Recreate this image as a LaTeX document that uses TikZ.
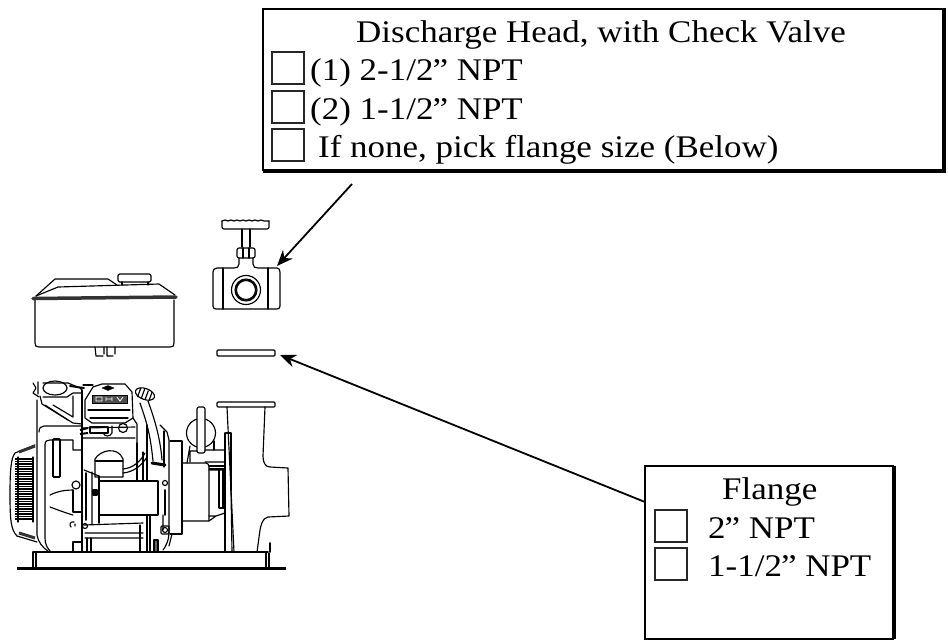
\documentclass[tikz,border=0pt]{standalone}
\usepackage{fontspec}
\setmainfont[FakeStretch=1.11]{Liberation Serif}
\usetikzlibrary{arrows.meta}
\tikzset{
 label/.style={anchor=base west,inner sep=0,font=\fontsize{31.5}{31.5}\selectfont},
 tick/.style={draw=black!85,line width=1.2pt,inner sep=0,outer sep=0,minimum size=32pt},
 panel/.style={draw=black,line width=2pt,inner sep=0,outer sep=0},
 shade/.style={line width=4pt},
 part/.style={line width=1.15pt,line join=round,line cap=round},
 heavy/.style={line width=1.9pt,line join=round,line cap=round},
 pointer/.style={-{Stealth[length=16pt,width=13pt]},line width=1.8pt}
}
\begin{document}
\begin{tikzpicture}[x=1pt,y=-1pt]
 \useasboundingbox (0,0) rectangle (948,641);
 % option panels
 \node[panel,minimum width=680pt,minimum height=161pt] (headbox) at (603,89) {};
 \draw[shade] ([xshift=1pt,yshift=1pt]headbox.north east) -- ([xshift=1pt,yshift=-1pt]headbox.south east) -- ([yshift=-1pt]headbox.south west);
 \node[label] (headtitle) at (356,42) {Discharge Head, with Check Valve};
 \node[tick] (heada) at (288,68) {};
 \node[tick] (headb) at (288,107) {};
 \node[tick] (headc) at (288,145) {};
 \node[label] (headatext) at (310,80) {(1) 2-1/2\kern-1pt” NPT};
 \node[label] (headbtext) at (310,119) {(2) 1-1/2\kern-1pt” NPT};
 \node[label] (headctext) at (318,157) {If none, pick flange size (Below)};
 \node[panel,minimum width=248pt,minimum height=173pt] (flangebox) at (769,552.5) {};
 \draw[shade] ([xshift=1pt]flangebox.north east) -- ([xshift=1pt]flangebox.south east);
 \node[label] (flangetitle) at (722,499) {Flange};
 \node[tick] (flangea) at (671,526) {};
 \node[tick] (flangeb) at (671,564) {};
 \node[label] (flangeatext) at (708,538) {2\kern-1pt” NPT};
 \node[label] (flangebtext) at (708,576) {1-1/2\kern-1pt” NPT};
 % pointers
 \coordinate (headtail) at (352,184);
 \coordinate (valvetip) at (277,266);
 \coordinate (flangetail) at (645,502);
 \coordinate (ringtip) at (280,355);
 \draw[pointer] (headtail) -- (valvetip);
 \draw[pointer] (flangetail) -- (ringtip);
 % tank
 \draw[part] (35,300) -- (35,343) .. controls (35,346) and (36,347) .. (39,347) -- (170,347) .. controls (173,347) and (174,346) .. (174,343) -- (174,300);
 \draw[heavy,line width=3.5pt,black!80] (33,298.5) -- (176,297);
 \draw[part] (36,296) -- (55,279) -- (108,279) -- (117,285);
 \draw[part] (36,296) -- (58,287) -- (159,284) -- (175,295);
 \draw[part,fill=white,rounded corners=1.5pt] (118,274) rectangle (151,282);
 \draw[part] (122,282) -- (122,285) (148,282) -- (148,285);
 \draw[part] (95,347) -- (96,356) -- (103,356) (104,347) -- (104,354) (107,347) -- (107,356) -- (113,356) (115,347) -- (115,354);
 % valve
 \draw[part,rounded corners=2pt] (222,221) -- (222,229) -- (269,229) -- (269,221);
 \draw[part] (222,221) -- (225,220) -- (228,221) -- (231,220) -- (234,221) -- (237,220) -- (240,221) -- (243,220) -- (246,221) -- (249,220) -- (252,221) -- (255,220) -- (258,221) -- (261,220) -- (264,221) -- (269,221);
 \draw[part] (242,229) -- (242,247) (250,229) -- (250,247);
 \draw[part,rounded corners=2pt] (237,248) rectangle (255,258);
 \draw[part] (243,248) -- (243,258) (249,248) -- (249,258);
 \draw[part] (239,258) -- (239,264) .. controls (239,267) and (237,268) .. (234,268) -- (217,268) .. controls (214,268) and (213,270) .. (213,272) -- (213,306) .. controls (213,308) and (214,309) .. (216,309) -- (277,309) .. controls (279,309) and (280,308) .. (280,306) -- (280,272) .. controls (280,270) and (279,268) .. (277,268) -- (258,268) .. controls (255,268) and (253,267) .. (253,264) -- (253,258);
 \draw[part] (223,268) -- (223,309) (268,268) -- (268,309);
 \draw[part] (246,290) circle (14.5) circle (11) circle (9.5);
 % ring and pump flange
 \draw[part,rounded corners=1pt] (217,350) rectangle (275,356);
 \draw[part,rounded corners=1pt] (217,402) rectangle (275,407);
 % pump casing
 \draw[part] (227,407) -- (234,552);
 \draw[part] (265,407) -- (263,456) .. controls (263,462) and (265,467) .. (270,467) -- (288,468) -- (289,516) -- (268,517) .. controls (262,518) and (261,526) .. (260,530) -- (257,552);
 \draw[part] (225,433) -- (225,552) (231,433) -- (231,490) (225,433) -- (231,433);
 \draw[part] (231,490) -- (232,552);
 % impeller hub
 \draw[part] (201,433) circle (14.5);
 \draw[part,fill=white,rounded corners=2pt] (197,407) rectangle (205,453);
 \draw[part] (187,463) -- (190,446) (197,451) -- (190,451) -- (190,462) (205,450) -- (225,450) (205,462) -- (225,462);
 \draw[part] (214,441) -- (214,450);
 \draw[part] (209,466) -- (225,466) (209,469) -- (225,469);
 % bearing housing
 \draw[part] (182,463) -- (206,463) .. controls (208,463) and (209,465) .. (209,467) -- (209,521) -- (182,521);
 \draw[part] (209,470) -- (222,470) (209,516) -- (216,516) (209,521) -- (216,516) -- (225,513);
 \draw[part] (219,470) -- (219,508) (223,470) -- (223,508) (219,508) -- (225,508);
 \draw[part] (170,441) -- (182,441) -- (182,534) -- (170,534);
 % engine block side
 \draw[part] (160,425) -- (167,432) -- (169,440) -- (169,533) .. controls (169,540) and (166,546) .. (163,550);
 \draw[part] (164,431) -- (164,467) (147,425) -- (147,480) (143,452) -- (143,480) (137,443) -- (137,480);
 \draw[part,rounded corners=1pt] (161,526) rectangle (169,534);
 \draw[part] (165,530) circle (2.5);
 \draw[part] (165,483) circle (2.5);
 \draw[heavy] (165,490) -- (165,515);
 % filler tube
 \draw[part] (140,403) .. controls (145,418) and (150,430) .. (153,461);
 \draw[part] (148,401) .. controls (153,415) and (160,435) .. (162,460);
 \draw[part,fill=white,rotate around={-20:(145,394)}] (145,394) ellipse (10 and 5.5);
 \foreach \rib in {-6,-2,2,6}
  \draw[part,rotate around={-20:(145,394)}] (145+\rib,390) -- (145+\rib,399);
 \draw[heavy,line width=3pt] (152,463) -- (165,465);
 % fan and shroud
 \draw[part] (37,400) -- (37,535) .. controls (38,542) and (43,548) .. (48,551);
 \draw[part] (39,432) .. controls (39,428) and (41,426) .. (44,426) -- (82,426);
 \draw[part] (82,390) -- (82,552);
 \draw[part] (45,445) .. controls (45,441) and (47,440) .. (50,440) -- (73,440) -- (73,450) -- (82,450);
 \draw[part] (45,445) -- (45,538) .. controls (45,544) and (47,548) .. (51,552);
 \draw[heavy,rounded corners=1pt] (53,439) rectangle (60,477);
 \draw[part] (76,485) circle (4);
 \draw[part] (50,495) .. controls (58,491) and (66,490) .. (73,490);
 \draw[part] (50,507) .. controls (58,510) and (66,513) .. (73,515);
 \draw[part] (73,490) -- (73,512) -- (82,512);
 \draw[part] (74,522) .. controls (70,521) and (69,525) .. (71,527) (75,524) -- (75,526);
 \draw[part] (73,552) -- (73,542) -- (82,542);
 \draw[part] (35,445) -- (15,453) .. controls (11,458) and (10,470) .. (10,495) .. controls (10,520) and (11,530) .. (17,536) -- (37,542);
 \draw[line width=3pt,black!80] (19,452) -- (35,446);
 \draw[line width=3pt,black!80] (19,533) -- (35,538);
 \foreach \fin in {459,461.5,...,521}
  \draw[line width=1.1pt] (15,\fin) -- (33,\fin);
 \draw[part] (18,457) -- (18,522) (33,457) -- (33,522);
 % cylinder and rails
 \draw[heavy] (86,473) -- (86,520);
 \draw[heavy] (99,476) -- (99,523);
 \draw[part] (92,472) -- (92,524) (84,470) -- (99,476);
 \draw[part,fill=black] (93,490) rectangle (97,495);
 \draw[part] (100,481) -- (158,481) -- (158,515) -- (100,515);
 \draw[part] (95,477) -- (95,459) .. controls (100,450) and (118,446) .. (123,459) -- (123,477) -- (95,477);
 \draw[part] (95,461) -- (123,461);
 \draw[part] (123,469) .. controls (133,468) and (140,462) .. (145,453);
 \draw[part] (123,473) .. controls (134,472) and (142,465) .. (147,457);
 \draw[part] (84,525) -- (143,523) (85,533) -- (143,533) (85,538) -- (143,538);
 \draw[part] (87,538) -- (87,552) (91,538) -- (91,552) (140,525) -- (140,552) (147,515) -- (147,552) (150,515) -- (150,552);
 \draw[part] (85,526) circle (2.5);
 \draw[heavy,fill=black!60] (154,540) rectangle (158,552);
 \draw[part] (172,534) -- (169,546) (163,515) -- (163,530);
 % head
 \draw[part] (85,418) -- (85,400) -- (93,387) -- (102,384) -- (125,384) -- (132,392) -- (133,418) -- (125,423) -- (92,423) -- cycle;
 \draw[part] (88,410) -- (130,410) (90,418) -- (128,418);
 \draw[fill=black!70,draw=black] (92,395) rectangle (127,403);
 \draw[white,line width=.8pt] (96,397) rectangle (102,401) (106,397) -- (106,401) (112,397) -- (112,401) (106,399) -- (112,399) (117,397) -- (120,401) -- (123,397);
 \draw[fill=black] (102,388) -- (108,385.5) -- (114,388) -- (108,390.5) -- cycle;
 \draw[part] (83,438) -- (135,438) (83,428) -- (135,427);
 \draw[part] (137,443) -- (137,424) -- (133,418);
 \draw[part] (90,427) rectangle (108,433);
 \draw[part] (123,428) circle (4.5);
 \draw[part] (103,433) .. controls (105,437) and (110,437) .. (112,433) -- (112,426);
 \draw[line width=2pt] (80,430) -- (88,428) (80,434) -- (88,433);
 % air duct
 \draw[part] (55,388) ellipse (12 and 7);
 \draw[part] (43,383) -- (68,383) -- (80,388) -- (82,390);
 \draw[part] (33,383) -- (36,388) -- (33,393) -- (39,397) (38,382) -- (38,394);
 \draw[part] (40,396) -- (42,404) -- (73,423) -- (82,424);
 \draw[part] (43,397) -- (67,397) -- (73,393) -- (82,393);
 \draw[part] (45,405) -- (68,420) (53,405) -- (73,417) -- (73,396);
 \draw[part] (83,385) -- (93,385);
 \draw[heavy] (70,386) -- (84,388);
 % base plate
 \draw[heavy] (33,552) -- (268,552);
 \draw[line width=3pt] (17,568) -- (286,568);
 \draw[part] (33,552) -- (33,567) (36,553) -- (36,567) (266,553) -- (266,567) (269,553) -- (269,567);
 \draw[heavy] (270,543) -- (270,552);
\end{tikzpicture}
\end{document}
